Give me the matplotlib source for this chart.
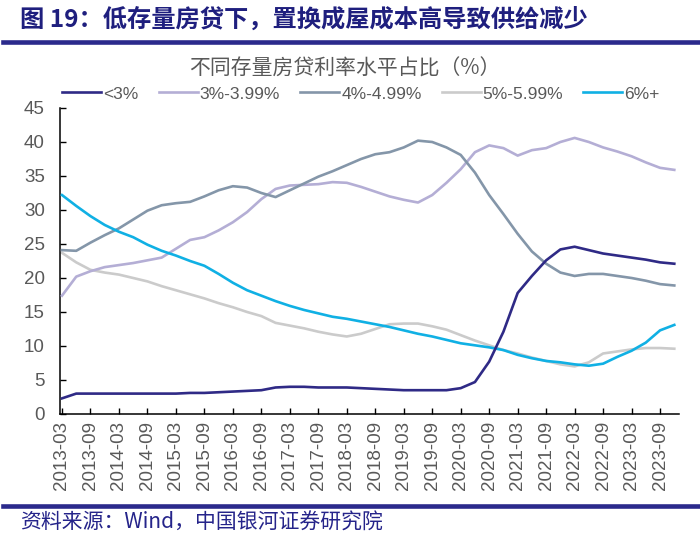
import matplotlib
matplotlib.use('Agg')
import matplotlib.pyplot as plt
from matplotlib.lines import Line2D


# ============================================================
# DATA (quarterly, 2013-03 .. 2023-12)
# ============================================================

SERIES_NAMES = ['<3%', '3%-3.99%', '4%-4.99%', '5%-5.99%', '6%+']

below_3 = [
    2.3, 3.0, 3.0, 3.0, 3.0, 3.0, 3.0, 3.0, 3.0, 3.1,
    3.1, 3.2, 3.3, 3.4, 3.5, 3.9, 4.0, 4.0, 3.9, 3.9,
    3.9, 3.8, 3.7, 3.6, 3.5, 3.5, 3.5, 3.5, 3.8, 4.7,
    7.7, 12.1, 17.8, 20.3, 22.6, 24.2, 24.6, 24.1, 23.6, 23.3,
    23.0, 22.7, 22.3, 22.1,
]

rate_3_399 = [
    17.4, 20.2, 21.0, 21.6, 21.9, 22.2, 22.6, 23.0, 24.3, 25.6,
    26.0, 27.0, 28.2, 29.7, 31.6, 33.1, 33.6, 33.7, 33.8, 34.1,
    34.0, 33.4, 32.7, 32.0, 31.5, 31.1, 32.2, 34.0, 36.0, 38.5,
    39.5, 39.1, 38.0, 38.8, 39.1, 40.0, 40.6, 40.0, 39.2, 38.6,
    37.9, 37.0, 36.2, 35.9,
]

rate_4_499 = [
    24.1, 24.0, 25.2, 26.3, 27.3, 28.6, 29.9, 30.7, 31.0, 31.2,
    32.0, 32.9, 33.5, 33.3, 32.5, 31.9, 32.9, 33.9, 34.9, 35.7,
    36.6, 37.5, 38.2, 38.5, 39.2, 40.2, 40.0, 39.2, 38.1, 35.5,
    32.2, 29.4, 26.5, 23.9, 22.1, 20.8, 20.3, 20.6, 20.6, 20.3,
    20.0, 19.6, 19.1, 18.9,
]

rate_5_599 = [
    23.7, 22.3, 21.2, 20.8, 20.5, 20.0, 19.5, 18.8, 18.2, 17.6,
    17.0, 16.3, 15.7, 15.0, 14.4, 13.4, 13.0, 12.6, 12.1, 11.7,
    11.4, 11.8, 12.5, 13.2, 13.3, 13.3, 12.9, 12.4, 11.6, 10.8,
    10.1, 9.4, 8.9, 8.3, 7.8, 7.3, 7.0, 7.6, 8.9, 9.2,
    9.5, 9.7, 9.7, 9.6,
]

above_6 = [
    32.2, 30.6, 29.1, 27.8, 26.8, 26.0, 24.9, 24.0, 23.3, 22.5,
    21.8, 20.6, 19.3, 18.2, 17.4, 16.6, 15.9, 15.3, 14.8, 14.3,
    14.0, 13.6, 13.2, 12.8, 12.3, 11.8, 11.4, 10.9, 10.4, 10.1,
    9.8, 9.4, 8.7, 8.2, 7.8, 7.6, 7.3, 7.1, 7.4, 8.4,
    9.3, 10.5, 12.3, 13.1,
]

tick_labels = [
    '2013-03', '2013-09', '2014-03', '2014-09', '2015-03', '2015-09',
    '2016-03', '2016-09', '2017-03', '2017-09', '2018-03', '2018-09',
    '2019-03', '2019-09', '2020-03', '2020-09', '2021-03', '2021-09',
    '2022-03', '2022-09', '2023-03', '2023-09',
]


# ============================================================
# STYLE
# ============================================================

COLORS = ['#2f2a86', '#b4aed5', '#8496a9', '#cbcbcb', '#10b0e4']
ZORDERS = [6, 3, 4, 2, 5]
NAVY = '#2b2a8c'
TEXT_GRAY = '#595959'

CJK = ['Noto Sans CJK SC', 'DejaVu Sans']
LATIN = ['Liberation Sans', 'DejaVu Sans']

plt.rcParams['font.family'] = LATIN


# ============================================================
# PLOT
# ============================================================

fig = plt.figure(figsize=(7, 5.44), dpi=100)
ax = fig.add_axes([60 / 700, 1 - 414 / 544, 619 / 700, 306 / 544])

all_series = [below_3, rate_3_399, rate_4_499, rate_5_599, above_6]
handles = []
for name, values, color, z in zip(SERIES_NAMES, all_series, COLORS, ZORDERS):
    x = list(range(len(values)))
    line, = ax.plot(x, values, color=color, lw=1.9, label=name, zorder=z,
                    solid_joinstyle='round')
    handles.append(line)

ax.set_xlim(-0.14, 43.33)
ax.set_ylim(0, 45)
ax.set_yticks(range(0, 46, 5))
ax.set_xticks(range(0, 2 * len(tick_labels), 2))
ax.set_xticklabels(tick_labels, rotation=90)

ax.tick_params(axis='both', direction='in', length=4, width=1.0,
               color='black', labelcolor=TEXT_GRAY)
ax.tick_params(axis='y', pad=11, labelsize=13.5)
ax.tick_params(axis='x', pad=5, labelsize=13.5)

for side in ['top', 'right']:
    ax.spines[side].set_visible(False)
for side in ['left', 'bottom']:
    ax.spines[side].set_color('black')
    ax.spines[side].set_linewidth(1.1)

# LEGEND
fig.legend(
    handles=handles,
    loc='center',
    bbox_to_anchor=(361 / 700, 1 - 94 / 544),
    ncol=5,
    frameon=False,
    fontsize=12.5,
    handlelength=2.25,
    handletextpad=0.12,
    columnspacing=1.15,
    labelcolor=TEXT_GRAY,
)

# TITLES
fig.text(20 / 700, 1 - 20 / 544, '图 19：低存量房贷下，置换成屋成本高导致供给减少',
         family=CJK, fontsize=17.5, fontweight='bold', color='#1f1f7e',
         ha='left', va='center')

fig.text(345 / 700, 1 - 69 / 544, '不同存量房贷利率水平占比（%）',
         family=CJK, fontsize=15, color=TEXT_GRAY, ha='center', va='center')

fig.text(20 / 700, 1 - 523 / 544, '资料来源：Wind，中国银河证券研究院',
         family=CJK, fontsize=15, style='italic', color='#25248a',
         ha='left', va='center')

# RULES
for y in [42, 505.5]:
    fig.add_artist(Line2D([3 / 700, 1], [1 - y / 544, 1 - y / 544],
                          transform=fig.transFigure, color=NAVY, lw=3.3))

fig.savefig('out.png', dpi=100)
